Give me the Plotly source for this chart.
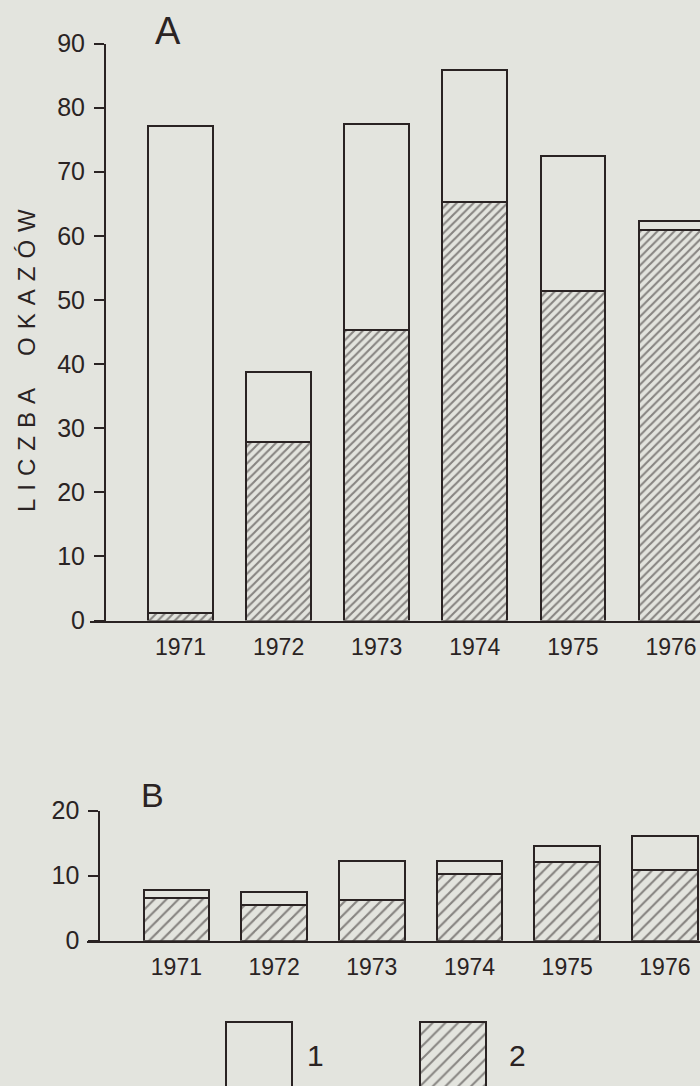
import plotly.graph_objects as go

W, H = 700, 1086

# ---------------- data ----------------
years = ["1971", "1972", "1973", "1974", "1975", "1976"]

# Panel A  (LICZBA OKAZÓW)
a_series2 = [1.2, 27.9, 45.3, 65.3, 51.4, 60.9]      # hatched (2)
a_series1 = [76.0, 10.8, 32.1, 20.6, 21.1, 1.4]      # white  (1), stacked on top

# Panel B
b_series2 = [6.5, 5.5, 6.3, 10.2, 12.1, 10.9]        # hatched (2)
b_series1 = [1.3, 2.0, 6.0, 2.1, 2.4, 5.2]           # white  (1)

a_ticks = [0, 10, 20, 30, 40, 50, 60, 70, 80, 90]
b_ticks = [0, 10, 20]

legend_labels = ["1", "2"]
legend_heights = [1, 1]

# ---------------- style ----------------
BG = "#e3e4de"
INK = "#2a2323"
FONT = "Liberation Sans, Arial, sans-serif"


def px_x(p):
    return p / W


def px_y(p):
    return 1 - p / H


fig = go.Figure()

bar_w = 0.66
line = dict(color=INK, width=2)

# Panel A
fig.add_trace(go.Bar(x=years, y=a_series2, width=bar_w, xaxis="x", yaxis="y",
                     marker=dict(color=BG, line=line,
                                 pattern=dict(shape="/", fgcolor=INK, bgcolor=BG,
                                              size=6, solidity=0.35)),
                     showlegend=False))
fig.add_trace(go.Bar(x=years, y=a_series1, width=bar_w, xaxis="x", yaxis="y",
                     marker=dict(color=BG, line=line), showlegend=False))

# Panel B
fig.add_trace(go.Bar(x=years, y=b_series2, width=0.67, xaxis="x2", yaxis="y2",
                     marker=dict(color=BG, line=line,
                                 pattern=dict(shape="/", fgcolor=INK, bgcolor=BG,
                                              size=8.5, solidity=0.25)),
                     showlegend=False))
fig.add_trace(go.Bar(x=years, y=b_series1, width=0.67, xaxis="x2", yaxis="y2",
                     marker=dict(color=BG, line=line), showlegend=False))

# Legend swatches
fig.add_trace(go.Bar(x=legend_labels, y=legend_heights, width=0.34,
                     xaxis="x3", yaxis="y3",
                     marker=dict(color=BG, line=line,
                                 pattern=dict(shape=["", "/"], fgcolor=INK, bgcolor=BG,
                                              size=9, solidity=0.22)),
                     showlegend=False))

xtickfont = dict(family=FONT, size=23, color=INK)
ytickfont = dict(family=FONT, size=25, color=INK)

a_x0 = 90
a_spacing = 98.1
a_c0 = 180.5
a_r0 = -(a_c0 - a_x0) / a_spacing
a_r1 = a_r0 + (W - a_x0) / a_spacing

b_x0 = 86.7
b_spacing = 97.7
b_c0 = 176.4
b_r0 = -(b_c0 - b_x0) / b_spacing
b_r1 = b_r0 + (W - b_x0) / b_spacing

common_x = dict(showline=True, linecolor=INK, linewidth=2, ticks="", showgrid=False,
                zeroline=False, tickfont=xtickfont, ticklabelstandoff=5,
                type="category", fixedrange=True, automargin=False)
common_y = dict(showline=True, linecolor=INK, linewidth=2, ticks="outside",
                ticklen=10, tickwidth=2, tickcolor=INK, showgrid=False,
                zeroline=False, tickfont=ytickfont, ticklabelstandoff=4,
                anchor="free", fixedrange=True, automargin=False)

fig.update_layout(
    width=W, height=H,
    autosize=False,
    margin=dict(l=0, r=0, t=0, b=0, pad=0, autoexpand=False),
    paper_bgcolor=BG, plot_bgcolor="rgba(0,0,0,0)",
    barmode="stack",
    showlegend=False,
    xaxis=dict(domain=[px_x(a_x0), 1], range=[a_r0, a_r1], anchor="y", **common_x),
    yaxis=dict(domain=[px_y(620.5), px_y(43.5)], range=[0, 90],
               tickvals=a_ticks, position=px_x(105), **common_y),
    xaxis2=dict(domain=[px_x(b_x0), 1], range=[b_r0, b_r1], anchor="y2", **common_x),
    yaxis2=dict(domain=[px_y(940.7), px_y(810.7)], range=[0, 20],
                tickvals=b_ticks, position=px_x(99.3), **common_y),
    xaxis3=dict(domain=[0, 1], range=[-259 / 194, -259 / 194 + W / 194],
                anchor="y3", visible=False, type="category", fixedrange=True,
                automargin=False),
    yaxis3=dict(domain=[0, 0.07], range=[0.3, 1.131], anchor="x3",
                visible=False, fixedrange=True, automargin=False),
)

ann_font = dict(family=FONT, color=INK)
sp = "\u2004"
title_text = sp.join("LICZBA") + sp * 4 + sp.join("OKAZÓW")
fig.add_annotation(text=title_text, x=px_x(26), y=px_y(361), xref="paper", yref="paper",
                   textangle=-90, showarrow=False, xanchor="center", yanchor="middle",
                   font=dict(size=24, **ann_font))
fig.add_annotation(text="A", x=px_x(168), y=px_y(31), xref="paper", yref="paper",
                   showarrow=False, xanchor="center", yanchor="middle",
                   font=dict(size=38, **ann_font))
fig.add_annotation(text="B", x=px_x(152), y=px_y(795), xref="paper", yref="paper",
                   showarrow=False, xanchor="center", yanchor="middle",
                   font=dict(size=34, **ann_font))
fig.add_annotation(text=legend_labels[0], x=px_x(315), y=px_y(1055), xref="paper", yref="paper",
                   showarrow=False, xanchor="center", yanchor="middle",
                   font=dict(size=30, **ann_font))
fig.add_annotation(text=legend_labels[1], x=px_x(517), y=px_y(1055), xref="paper", yref="paper",
                   showarrow=False, xanchor="center", yanchor="middle",
                   font=dict(size=30, **ann_font))

fig.write_html(
    "out.html",
    config={"displayModeBar": False},
    post_script="document.body.style.margin='0';document.body.style.background='" + BG + "';",
)
